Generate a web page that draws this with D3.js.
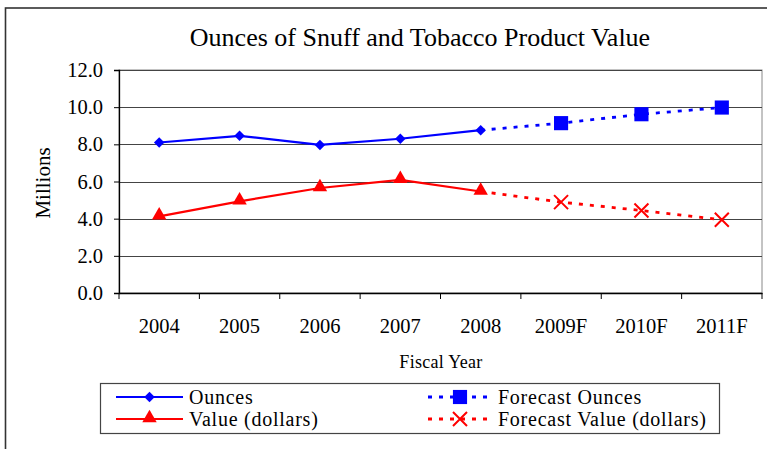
<!DOCTYPE html>
<html>
<head>
<meta charset="utf-8">
<script src="https://cdn.jsdelivr.net/npm/d3@7"></script>
<style>
  html, body { margin: 0; padding: 0; background: #fff; }
  svg { display: block; font-family: "Liberation Serif", "Times New Roman", serif; }
</style>
</head>
<body>
<svg id="chart" width="767" height="449"></svg>
<script>
const categories = ["2004", "2005", "2006", "2007", "2008", "2009F", "2010F", "2011F"];
const ounces = [8.10, 8.46, 7.97, 8.30, 8.76, null, null, null];
const valueDollars = [4.12, 4.93, 5.65, 6.09, 5.46, null, null, null];
const forecastOunces = [null, null, null, null, 8.76, 9.14, 9.62, 9.98];
const forecastValue = [null, null, null, null, 5.46, 4.89, 4.44, 3.94];
const yTicks = [0, 2, 4, 6, 8, 10, 12];
const titleText = "Ounces of Snuff and Tobacco Product Value";
const yLabel = "Millions";
const xLabel = "Fiscal Year";
const legendItems = ["Ounces", "Value (dollars)", "Forecast Ounces", "Forecast Value (dollars)"];

(function () {
const svg = d3.select("#chart");
const BLUE = "#0000ff", RED = "#ff0000";
const FONT = "'Liberation Serif', 'Times New Roman', serif";

// outer frame
svg.append("rect").attr("x", 5.5).attr("y", 8).attr("width", 900).attr("height", 600)
  .attr("fill", "none").attr("stroke", "#333").attr("stroke-width", 1.6);

const pL = 119, pR = 762, pT = 70, pB = 293;
const x = d3.scaleBand().domain(categories).range([pL, pR]);
const y = d3.scaleLinear().domain([0, 12]).range([pB, pT]);

// plot border
svg.append("rect").attr("x", pL).attr("y", pT).attr("width", pR - pL).attr("height", pB - pT)
  .attr("fill", "none").attr("stroke", "#888").attr("stroke-width", 1);

// gridlines
svg.append("g").selectAll("line").data(yTicks.filter(d => d > 0)).join("line")
  .attr("x1", pL).attr("x2", pR)
  .attr("y1", d => Math.round(y(d)) + 0.5).attr("y2", d => Math.round(y(d)) + 0.5)
  .attr("stroke", "#444").attr("stroke-width", 1.2);

// y axis
const yAxis = svg.append("g").attr("transform", `translate(${pL},0)`)
  .call(d3.axisLeft(y).tickValues(yTicks).tickFormat(d3.format(".1f")).tickSize(5).tickPadding(11));
yAxis.attr("font-family", FONT);
yAxis.select(".domain").attr("stroke", "#000").attr("stroke-width", 1.3);
yAxis.selectAll(".tick line").attr("stroke", "#000");
yAxis.selectAll("text").attr("font-size", 20.5).attr("fill", "#000").attr("font-family", FONT);

// x axis
const xAxis = svg.append("g").attr("transform", `translate(0,${pB})`)
  .call(d3.axisBottom(x).tickSize(0).tickPadding(25));
xAxis.attr("font-family", FONT);
xAxis.select(".domain").attr("stroke", "#000").attr("stroke-width", 1.3);
xAxis.selectAll("text").attr("font-size", 20.5).attr("fill", "#000").attr("font-family", FONT);
// category boundary ticks
const bounds = categories.map(c => x(c)).concat([x(categories[categories.length - 1]) + x.bandwidth()]);
svg.append("g").selectAll("line").data(bounds).join("line")
  .attr("x1", d => d).attr("x2", d => d).attr("y1", pB).attr("y2", pB + 6)
  .attr("stroke", "#000").attr("stroke-width", 1);

// title and labels
svg.append("text").attr("x", 420).attr("y", 46).attr("text-anchor", "middle")
  .attr("font-size", 26).text(titleText);
svg.append("text").attr("transform", "translate(50,183) rotate(-90)").attr("text-anchor", "middle")
  .attr("font-size", 21).text(yLabel);
svg.append("text").attr("x", 441).attr("y", 368).attr("text-anchor", "middle")
  .attr("font-size", 18).attr("letter-spacing", 0.3).text(xLabel);

const cx = c => x(c) + x.bandwidth() / 2;
const line = d3.line().defined(d => d.v != null).x(d => cx(d.c)).y(d => y(d.v));
const toPts = arr => categories.map((c, i) => ({ c, v: arr[i] }));

function drawSeries(arr, color, dashed) {
  svg.append("path").datum(toPts(arr)).attr("d", line).attr("fill", "none")
    .attr("stroke", color).attr("stroke-width", dashed ? 2.8 : 2.2)
    .attr("stroke-dasharray", dashed ? "4,7" : null);
}
drawSeries(ounces, BLUE, false);
drawSeries(valueDollars, RED, false);
drawSeries(forecastOunces, BLUE, true);
drawSeries(forecastValue, RED, true);

const sym = {
  diamond: d3.symbol().type(d3.symbolDiamond2).size(70),
  triangle: d3.symbol().type(d3.symbolTriangle).size(90),
  square: d3.symbol().type(d3.symbolSquare).size(200)
};
function marker(g, type, color, px, py) {
  if (type === "x") {
    const s = 7;
    g.append("path").attr("d", `M${px - s},${py - s}L${px + s},${py + s}M${px - s},${py + s}L${px + s},${py - s}`)
      .attr("stroke", color).attr("stroke-width", 2).attr("fill", "none");
  } else {
    g.append("path").attr("d", sym[type]()).attr("transform", `translate(${px},${py})`).attr("fill", color);
  }
}
const mg = svg.append("g");
ounces.forEach((v, i) => { if (v != null) marker(mg, "diamond", BLUE, cx(categories[i]), y(v)); });
valueDollars.forEach((v, i) => { if (v != null) marker(mg, "triangle", RED, cx(categories[i]), y(v) - 1); });
forecastOunces.forEach((v, i) => { if (v != null && ounces[i] == null) marker(mg, "square", BLUE, cx(categories[i]), y(v)); });
forecastValue.forEach((v, i) => { if (v != null && valueDollars[i] == null) marker(mg, "x", RED, cx(categories[i]), y(v)); });

// legend
const lg = svg.append("g");
lg.append("rect").attr("x", 100.5).attr("y", 383.5).attr("width", 619).attr("height", 50)
  .attr("fill", "#fff").attr("stroke", "#444").attr("stroke-width", 1.2);
const legendDefs = [
  { label: legendItems[0], color: BLUE, dashed: false, m: "diamond", x0: 116, x1: 183, ty: 397 },
  { label: legendItems[1], color: RED, dashed: false, m: "triangle", x0: 116, x1: 183, ty: 419 },
  { label: legendItems[2], color: BLUE, dashed: true, m: "square", x0: 428, x1: 492, ty: 397 },
  { label: legendItems[3], color: RED, dashed: true, m: "x", x0: 428, x1: 492, ty: 419 }
];
legendDefs.forEach(d => {
  lg.append("line").attr("x1", d.x0).attr("x2", d.x1).attr("y1", d.ty).attr("y2", d.ty)
    .attr("stroke", d.color).attr("stroke-width", d.dashed ? 2.8 : 2.2)
    .attr("stroke-dasharray", d.dashed ? "4,7" : null);
  const mx = (d.x0 + d.x1) / 2;
  marker(lg, d.m, d.color, mx, d.ty - (d.m === "triangle" ? 1 : 0));
  lg.append("text").attr("x", d.x1 + 6).attr("y", d.ty + 7).attr("font-size", 20)
    .attr("letter-spacing", 0.75).text(d.label);
});
})();
</script>
</body>
</html>
